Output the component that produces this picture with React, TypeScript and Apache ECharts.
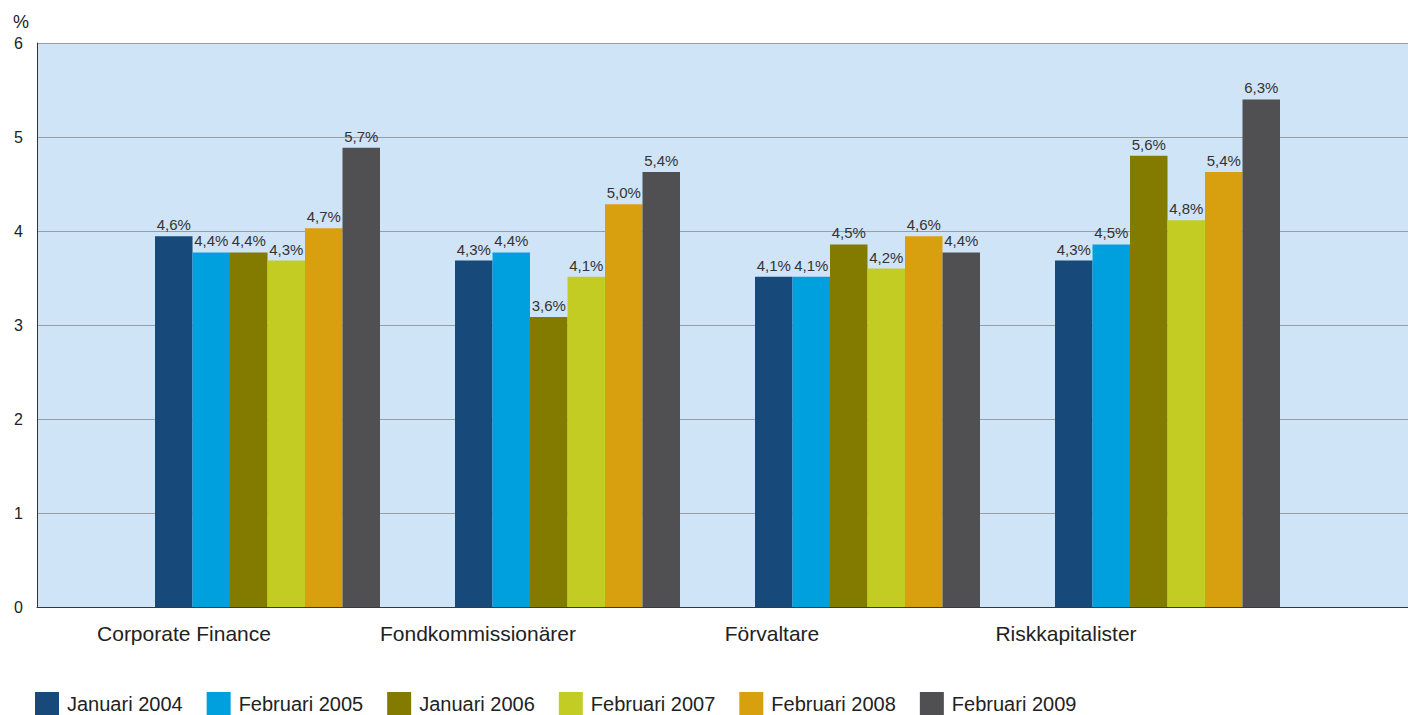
import React, { useEffect, useRef } from "react";
import * as echarts from "echarts";

const categories = ["Corporate Finance", "Fondkommissionärer", "Förvaltare", "Riskkapitalister"];
const seriesNames = ["Januari 2004", "Februari 2005", "Januari 2006", "Februari 2007", "Februari 2008", "Februari 2009"];
const jan2004 = [4.6, 4.3, 4.1, 4.3];
const feb2005 = [4.4, 4.4, 4.1, 4.5];
const jan2006 = [4.4, 3.6, 4.5, 5.6];
const feb2007 = [4.3, 4.1, 4.2, 4.8];
const feb2008 = [4.7, 5.0, 4.6, 5.4];
const feb2009 = [5.7, 5.4, 4.4, 6.3];
const seriesValues = [jan2004, feb2005, jan2006, feb2007, feb2008, feb2009];
const colors = ["#17497b", "#009fde", "#827b00", "#c2cc23", "#d8a00f", "#505052"];
const yTickMax = 6; // axis labels 0..6
const barScaleMax = 7; // bar value scale behind the plotted axis

const FONT = '"Liberation Sans", Arial, sans-serif';

export default function App() {
  const ref = useRef<HTMLDivElement>(null);
  useEffect(() => {
    document.body.style.margin = "0";
    const chart = echarts.init(ref.current!, null, { renderer: "svg" });
    const top = 43;
    const bottom = 108;
    chart.setOption({
      animation: false,
      textStyle: { fontFamily: FONT },
      grid: [
        { left: 37, right: 0, top, bottom, show: true, backgroundColor: "#d0e4f7", borderWidth: 0 },
        { left: 117.5, width: 1200, top, bottom },
        { left: 37, width: 1176, top, bottom },
      ],
      xAxis: [
        {
          gridIndex: 0,
          type: "category",
          data: categories,
          axisLine: { show: true, lineStyle: { color: "#343a44", width: 1 } },
          axisTick: { show: false },
          axisLabel: { show: false },
        },
        { gridIndex: 1, type: "category", data: categories, show: false },
        {
          gridIndex: 2,
          type: "category",
          data: categories,
          axisLine: { show: false },
          axisTick: { show: false },
          axisLabel: { color: "#222", fontSize: 21, margin: 16, fontFamily: FONT },
        },
      ],
      yAxis: [
        {
          gridIndex: 0,
          type: "value",
          min: 0,
          max: yTickMax,
          interval: 1,
          name: "%",
          nameLocation: "end",
          nameGap: 12,
          nameTextStyle: { color: "#222", fontSize: 18, align: "right", padding: [0, 8, 0, 0], fontFamily: FONT },
          axisLine: { show: true, lineStyle: { color: "#333", width: 1 } },
          axisTick: { show: false },
          axisLabel: { color: "#222", fontSize: 16, margin: 14, fontFamily: FONT },
          splitLine: { show: true, lineStyle: { color: "#999da2", width: 1.2 } },
        },
        { gridIndex: 1, type: "value", min: 0, max: barScaleMax, show: false, splitLine: { show: false } },
        { gridIndex: 2, type: "value", show: false, splitLine: { show: false } },
      ],
      legend: {
        left: 35,
        top: 692,
        padding: 0,
        itemWidth: 24,
        itemHeight: 24,
        itemGap: 24,
        icon: "rect",
        textStyle: { color: "#222", fontSize: 20, lineHeight: 20, fontFamily: FONT, padding: [0, 0, 0, 3] },
        data: seriesNames,
      },
      series: seriesNames.map((name, i) => ({
        name,
        type: "bar",
        xAxisIndex: 1,
        yAxisIndex: 1,
        data: seriesValues[i],
        barWidth: 37.5,
        barGap: "0%",
        itemStyle: { color: colors[i] },
        label: {
          show: true,
          position: "top",
          distance: 4,
          color: "#333",
          fontSize: 15,
          fontFamily: FONT,
          formatter: (p: any) => p.value.toFixed(1).replace(".", ",") + "%",
        },
      })),
    });
    return () => chart.dispose();
  }, []);
  return <div ref={ref} style={{ width: 1408, height: 715 }} />;
}
